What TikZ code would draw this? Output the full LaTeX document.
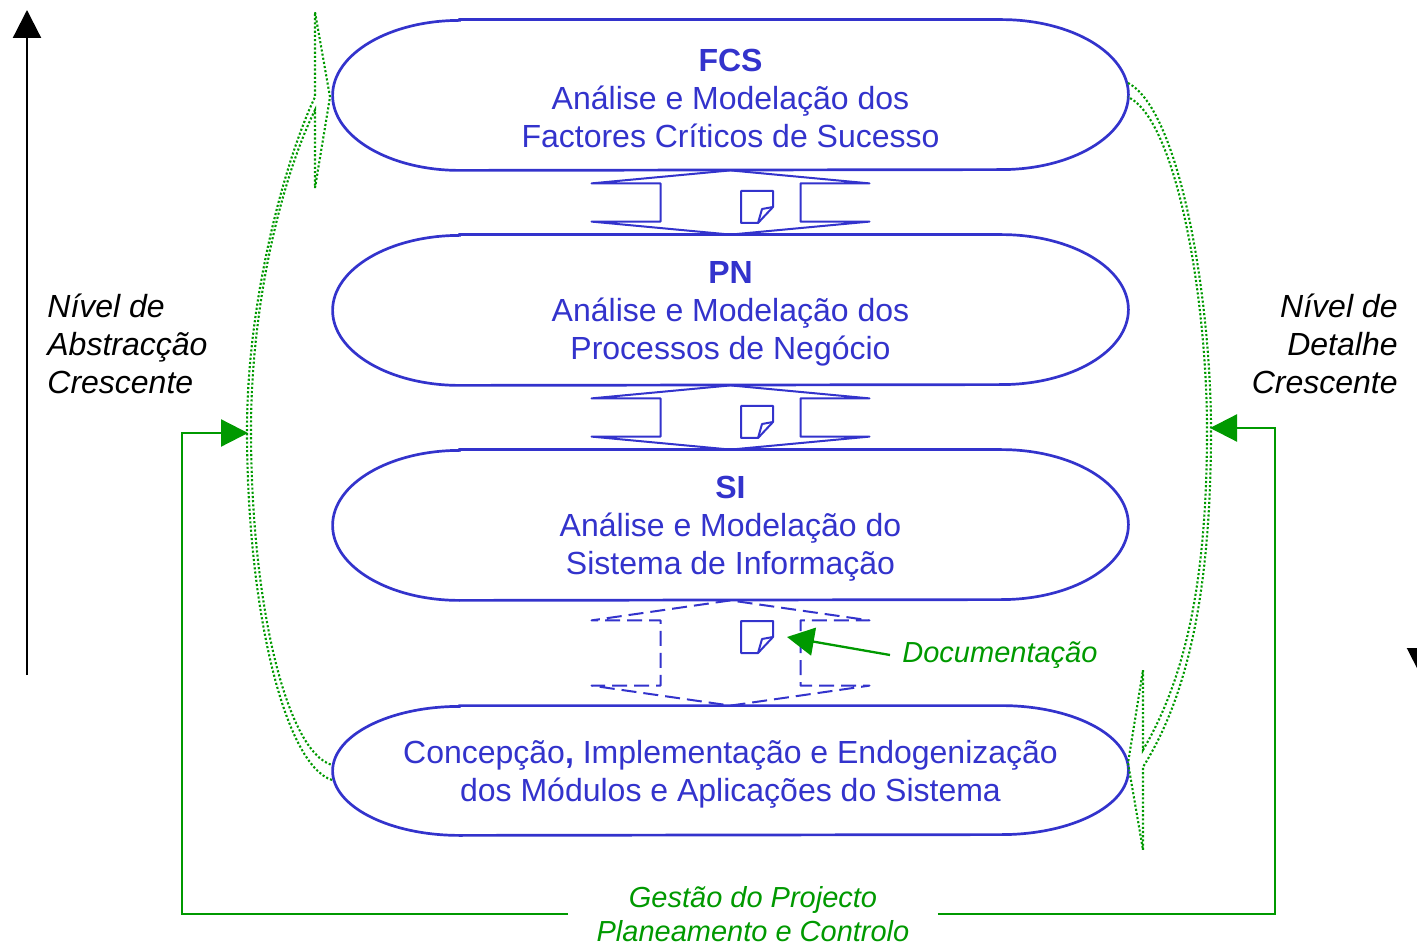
\documentclass[tikz,border=0pt]{standalone}
\usepackage{fontspec}
\setmainfont{Liberation Sans}
\usetikzlibrary{arrows.meta}
\usetikzlibrary{calc,positioning}

\definecolor{stageblue}{RGB}{51,51,204}
\definecolor{loopgreen}{RGB}{0,153,0}

\tikzset{
    doc/.pic = {
        \draw[docline] (-16,-16) -- (16,-16) -- (16,0) -- (1,16) -- (-16,16) -- cycle;
        \draw[docline] (1,16) -- (5,2) -- (16,0);
        \coordinate (-east) at (16,0);
    }
}

\newcommand{\topstrut}{\rule{0pt}{15pt}}

% outline of a stage: node name, half height
\newcommand{\stageoutline}[2]{%
    \draw[stageline] ([xshift=63.5pt]#1.north west) -- ([xshift=-63.5pt]#1.north east)
        arc[start angle=90, end angle=-90, x radius=63.5pt, y radius=#2]
        -- ([xshift=63.5pt]#1.south west)
        arc[start angle=270, end angle=90, x radius=63.5pt, y radius=#2] -- cycle;}

% double block arrow between two stages: style, upper, lower, head height
\newcommand{\updown}[4][]{%
    \draw[flowline,#1] (#2.south) -- ([shift={(-69.5pt,-#4)}]#2.south) -- ([shift={(-35pt,-#4)}]#2.south)
        -- ([shift={(-35pt,#4)}]#3.north) -- ([shift={(-69.5pt,#4)}]#3.north) -- (#3.north)
        -- ([shift={(69.5pt,#4)}]#3.north) -- ([shift={(35pt,#4)}]#3.north)
        -- ([shift={(35pt,-#4)}]#2.south) -- ([shift={(69.5pt,-#4)}]#2.south) -- cycle;}

\begin{document}
\begin{tikzpicture}[x=0.5pt, y=-0.5pt,
    stage/.style = {text=stageblue, align=center, inner sep=0pt, minimum width=397.5pt,
        font=\fontsize{16}{19}\selectfont},
    stageline/.style = {draw=stageblue, line width=1.35pt},
    flowline/.style = {draw=stageblue, line width=1pt, line join=round},
    docline/.style = {draw=stageblue, line width=1pt, line join=round},
    sidelabel/.style = {inner sep=0pt, font=\itshape\fontsize{16}{19}\selectfont},
    greenlabel/.style = {text=loopgreen, inner sep=0pt, align=center,
        font=\itshape\fontsize{14.5}{17}\selectfont},
    loopline/.style = {draw=loopgreen, line width=1.05pt, dash pattern=on 1.05pt off 1.05pt},
    feedback/.style = {draw=loopgreen, line width=1.15pt, -{Triangle[length=13.5pt, width=13.5pt]}},
    docarrow/.style = {draw=loopgreen, line width=1.15pt, -{Triangle[length=13.5pt, width=14pt]}},
    levelarrow/.style = {draw=black, line width=1.1pt, -{Triangle[length=14pt, width=14pt]}}]

    \useasboundingbox (0,0) rectangle (1417,945);

    % stages
    \node[stage, minimum height=75pt] (fcs) at (730.5,95)
        {\topstrut\textbf{FCS}\\Análise e Modelação dos\\Factores Críticos de Sucesso};
    \node[stage, minimum height=75pt] (pn) at (730.5,310)
        {\topstrut\textbf{PN}\\Análise e Modelação dos\\Processos de Negócio};
    \node[stage, minimum height=75pt] (si) at (730.5,525)
        {\topstrut\textbf{SI}\\Análise e Modelação do\\Sistema de Informação};
    \node[stage, minimum height=64.5pt] (impl) at (730.5,770.5)
        {\topstrut Concepção\textbf{,} Implementação e Endogenização\\dos Módulos e Aplicações do Sistema};

    \stageoutline{fcs}{37.5pt}
    \stageoutline{pn}{37.5pt}
    \stageoutline{si}{37.5pt}
    \stageoutline{impl}{32.25pt}

    \updown{fcs}{pn}{6.5pt}
    \updown{pn}{si}{6.5pt}
    \updown[dash pattern=on 7.5pt off 3.5pt]{si}{impl}{10pt}

    \pic (docA) at (757,207) {doc};
    \pic (docB) at (757,422) {doc};
    \pic (docC) at (757,637) {doc};

    \node[greenlabel, inner xsep=6pt, anchor=west] (doclabel) at (890,655) {Documentação};
    \draw[docarrow] (doclabel.west) -- ([xshift=7pt]docC-east);

    % iteration loops
    \draw[loopline] (332,780) .. controls (285,765) and (247,610) .. (247,430)
        .. controls (247,300) and (285,160) .. (315,97) -- (315,12) -- (330,97) -- (315,188) -- (315,110)
        .. controls (283,175) and (251,300) .. (251,430)
        .. controls (251,605) and (287,752) .. (332,765);
    \draw[loopline] (1128,83) .. controls (1180,110) and (1211,300) .. (1211,430)
        .. controls (1211,600) and (1185,700) .. (1143,767) -- (1143,850) -- (1128,763) -- (1143,670) -- (1143,750)
        .. controls (1181,685) and (1207,595) .. (1207,430)
        .. controls (1207,300) and (1177,120) .. (1128,97);

    % project management
    \node[greenlabel, inner xsep=14pt] (gestao) at (753,914)
        {Gestão do Projecto\\Planeamento e Controlo};
    \coordinate (leftin) at (248,433);
    \coordinate (rightin) at (1210,428);
    \draw[feedback] (gestao.west) -| ([xshift=-33pt]leftin) -- (leftin);
    \draw[feedback] (gestao.east) -| ([xshift=32.5pt]rightin) -- (rightin);

    % levels
    \coordinate (abot) at (27,675);
    \coordinate (atop) at (27,10);
    \coordinate (dtop) at (1421,10);
    \coordinate (dbot) at (1421,676);
    \draw[levelarrow] (abot) -- (atop);
    \draw[levelarrow] (dtop) -- (dbot);

    \node[sidelabel, anchor=west, align=left] (abstr) at (47,344)
        {Nível de\\Abstracção\\Crescente};
    \node[sidelabel, anchor=east, align=right] (detalhe) at (1398,344)
        {Nível de\\Detalhe\\Crescente};

\end{tikzpicture}
\end{document}
